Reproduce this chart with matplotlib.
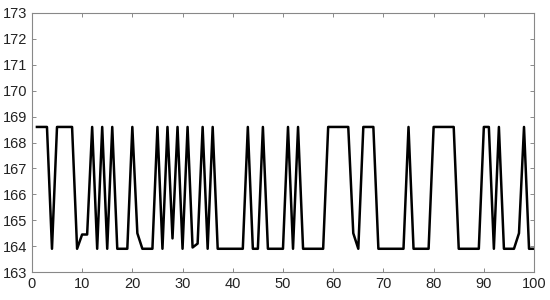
import numpy as np
import matplotlib.pyplot as plt

H = 168.6
L = 163.9

x = np.arange(1, 101)
y = [H, H, H, L, H, H, H, H, L, 164.45,
     164.45, H, L, H, L, H, L, L, L, H,
     164.5, L, L, L, H, L, H, 164.3, H, L,
     H, 163.95, 164.1, H, L, H, L, L, L, L,
     L, L, H, L, L, H, L, L, L, L,
     H, L, H, L, L, L, L, L, H, H,
     H, H, H, 164.5, L, H, H, H, L, L,
     L, L, L, L, H, L, L, L, L, H,
     H, H, H, H, L, L, L, L, L, H,
     H, L, H, L, L, L, 164.5, H, L, L]

plt.rcParams['font.family'] = ['Liberation Sans Narrow', 'Liberation Sans', 'DejaVu Sans']

fig = plt.figure(figsize=(5.5, 3), dpi=100)
ax = fig.add_axes([0.058, 0.093, 0.913, 0.864])
ax.plot(x, y, color='black', linewidth=1.8)
ax.set_xlim(0, 100)
ax.set_ylim(163, 173)
ax.set_xticks(range(0, 101, 10))
ax.set_yticks(range(163, 174))
ax.tick_params(direction='in', top=True, right=True, length=3, width=0.6,
               colors='#777777', labelcolor='#222222', labelsize=10.5)
for s in ax.spines.values():
    s.set_color('#888888')
    s.set_linewidth(0.8)

fig.savefig('out.png', dpi=100)
